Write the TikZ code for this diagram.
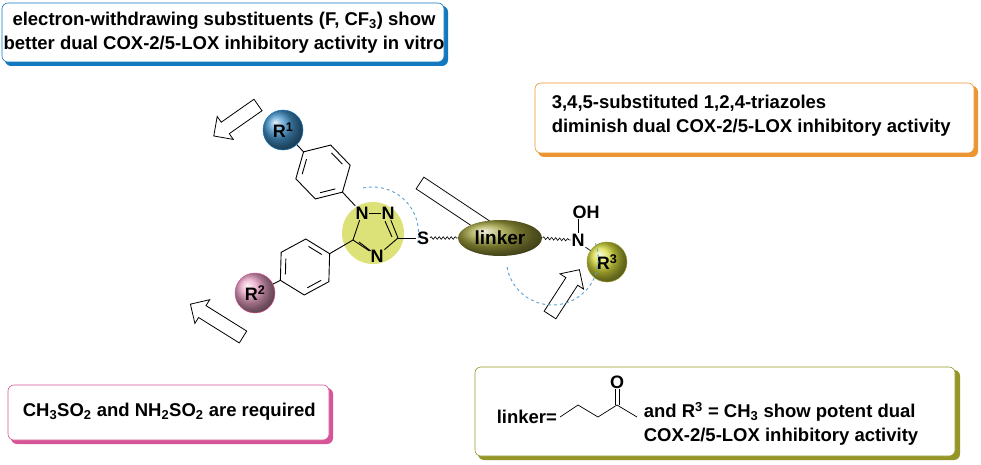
\documentclass[tikz,border=0pt]{standalone}
\usepackage{fontspec}
\setmainfont{Liberation Sans}
\usetikzlibrary{shapes.geometric,decorations.pathmorphing,calc}
\definecolor{cblue}{RGB}{20,120,190}
\definecolor{corange}{RGB}{235,150,50}
\definecolor{cpink}{RGB}{215,85,150}
\definecolor{colive}{RGB}{150,150,40}
\definecolor{clime}{RGB}{215,220,60}
\definecolor{ctri}{RGB}{220,225,120}
\newcommand\myharrow[3]{\begin{scope}[shift={(#1)},rotate=#2]
\draw[fill=white,line width=0.8pt,line join=miter] (0,-7)--(#3-14,-7)--(#3-14,-14)--(#3,0)--(#3-14,14)--(#3-14,7)--(0,7)--cycle;
\end{scope}}
\begin{document}
\begin{tikzpicture}[x=1pt,y=-1pt,line width=0.9pt,
  txt/.style={font=\fontsize{18.5}{24}\selectfont\bfseries},
  atom/.style={font=\fontsize{18}{18}\selectfont\bfseries,inner sep=0.5pt},
  box/.style={rounded corners=6pt,fill=white,line width=0.6pt},
  ball/.style={circle,minimum size=40pt,inner sep=0pt,font=\fontsize{18}{18}\selectfont\bfseries},
  dsh/.style={draw=cblue!70,line width=0.9pt,dash pattern=on 3pt off 3pt},
  wavy/.style={decorate,decoration={snake,amplitude=1.3pt,segment length=4pt},line width=0.6pt}]
\useasboundingbox (0,0) rectangle (981,465);
% boxes
\fill[cblue,rounded corners=6pt] (5,6) rectangle (448,66);
\draw[box,draw=cblue] (2,3) rectangle (444,62);
\node[txt,align=center] (tb) at (224,33) {electron-withdrawing substituents (F, CF$_\mathbf{3}$) show\\better dual COX-2/5-LOX inhibitory activity in vitro};
\fill[corange,rounded corners=6pt] (538,86) rectangle (978,157);
\draw[box,draw=corange] (535,83) rectangle (974,153);
\node[txt,align=left,anchor=west] (to) at (548,116) {3,4,5-substituted 1,2,4-triazoles\\diminish dual COX-2/5-LOX inhibitory activity};
\fill[cpink,rounded corners=6pt] (11,388) rectangle (333,444);
\draw[box,draw=cpink] (8,385) rectangle (329,440);
\node[txt,anchor=west] (tp) at (19,412) {CH$_\mathbf{3}$SO$_\mathbf{2}$ and NH$_\mathbf{2}$SO$_\mathbf{2}$ are required};
\fill[colive,rounded corners=6pt] (478,370) rectangle (960,460);
\draw[box,draw=colive] (475,367) rectangle (955,456);
\node[txt,anchor=west] (tl) at (493,417) {linker=};
\coordinate (z1) at (560,417); \coordinate (z2) at (578,405); \coordinate (z3) at (598,417);
\coordinate (z4) at (617,405); \coordinate (z5) at (637,417);
\draw[line width=0.7pt] (z1)--(z2)--(z3)--(z4)--(z5);
\node[atom] (O) at (617,382) {O};
\draw[line width=0.7pt] ($(z4)+(-2,0)$) -- ($(O.south)+(-2,0)$) ($(z4)+(2,0)$) -- ($(O.south)+(2,0)$);
\node[txt,align=left,anchor=west] (tl2) at (640,424) {and R$^\mathbf{3}$ = CH$_\mathbf{3}$ show potent dual\\COX-2/5-LOX inhibitory activity};
% hollow arrows
\myharrow{258,105}{215}{54}
\myharrow{420,183}{-33.7}{123}
\myharrow{243,337}{148}{62}
\myharrow{550,315}{57}{54}
% triazole
\fill[ctri] (373,233) circle (31);
\node[atom] (N1) at (362,213) {N};
\node[atom] (N2) at (388,213) {N};
\node[atom] (N4) at (377,256) {N};
\coordinate (C3) at (398,238);
\coordinate (C5) at (353,240);
\node[atom] (S) at (423,238) {S};
\draw (N1)--(N2);
\draw (N2)--(C3)--(N4);
\draw ($(N2.south)+(-3,1)$)--($(C3)+(-6,-1)$);
\draw (N4)--(C5)--(N1);
\draw ($(C5)+(6,2)$)--($(N4.north west)+(1,2)$);
\draw (C3)--(S);
% upper phenyl
\begin{scope}[shift={(323,172)}]
\foreach \k in {0,...,5}{\coordinate (u\k) at (46+60*\k:28);}
\draw (u0)--(u1)--(u2)--(u3)--(u4)--(u5)--cycle;
\foreach \a/\b in {0/1,2/3,4/5}{\draw ($(u\a)!0.15!(u\b)!0.2!(0,0)$)--($(u\b)!0.15!(u\a)!0.2!(0,0)$);}
\end{scope}
\draw (u0)--(N1);
\node[ball,ball color=cblue!80,draw=cblue,line width=0.5pt] (R1) at (283,130) {R$^\mathbf{1}$};
\draw (u3)--(R1);
% lower phenyl
\begin{scope}[shift={(305,267)}]
\foreach \k in {0,...,5}{\coordinate (l\k) at (-28.4+60*\k:28);}
\draw (l0)--(l1)--(l2)--(l3)--(l4)--(l5)--cycle;
\foreach \a/\b in {1/2,3/4,5/0}{\draw ($(l\a)!0.15!(l\b)!0.2!(0,0)$)--($(l\b)!0.15!(l\a)!0.2!(0,0)$);}
\end{scope}
\draw (l0)--(C5);
\node[ball,ball color=cpink!55,draw=cpink,line width=0.5pt] (R2) at (255,293) {R$^\mathbf{2}$};
\draw (l3)--(R2);
% linker
\node[ellipse,minimum width=84pt,minimum height=36pt,inner sep=0pt,ball color=colive!90,font=\fontsize{19}{19}\selectfont\bfseries] (lk) at (500,238) {linker};
\draw[wavy] (S.east)--(lk.west);
\node[atom] (N) at (578,240) {N};
\node[atom] (OH) at (586,212) {OH};
\draw[line width=0.7pt] (N.north)--(N.north|-OH.south);
\draw[wavy] (lk.east)--(N.west);
\node[ball,ball color=clime,draw=clime!70!black,line width=0.5pt] (R3) at (607,262) {R$^\mathbf{3}$};
\draw[line width=0.7pt] (N.south east)--(R3);
% dashed arcs
\draw[dsh] (363,188) arc[start angle=-102,end angle=12,radius=46];
\draw[dsh] (507,267) arc[start angle=170,end angle=-20,radius=46];
\end{tikzpicture}
\end{document}
